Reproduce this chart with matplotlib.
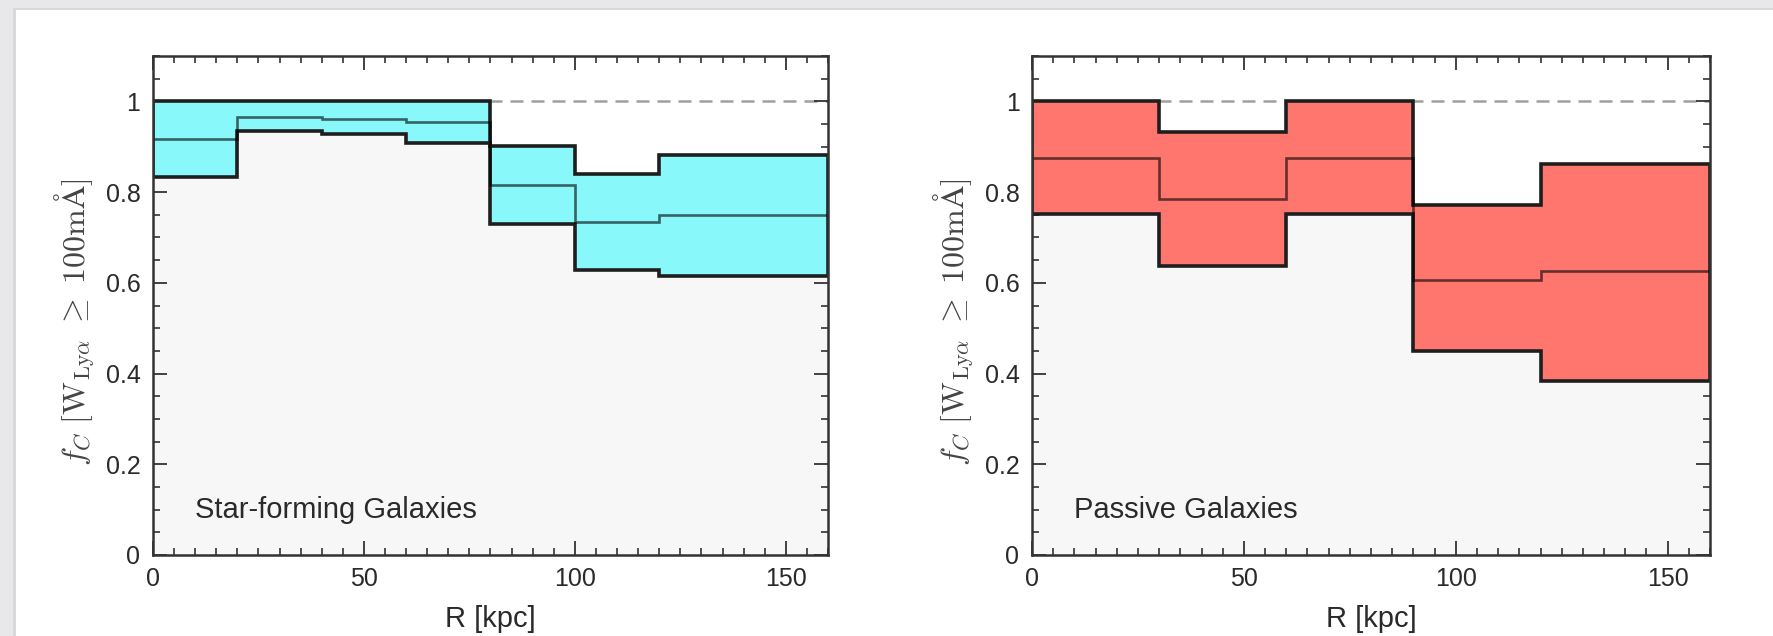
import numpy as np
import matplotlib
matplotlib.use("Agg")
import matplotlib.pyplot as plt
from matplotlib.patches import Rectangle
from matplotlib.ticker import MultipleLocator, FormatStrFormatter

# covering fraction per radial bin
sf_edges = [0, 20, 40, 60, 80, 100, 120, 160]
sf_upper = [1.0, 1.0, 1.0, 1.0, 0.902, 0.840, 0.882]
sf_median = [0.917, 0.966, 0.962, 0.954, 0.815, 0.735, 0.750]
sf_lower = [0.834, 0.935, 0.927, 0.908, 0.730, 0.628, 0.614]

ps_edges = [0, 30, 60, 90, 120, 160]
ps_upper = [1.0, 0.933, 1.0, 0.771, 0.862]
ps_median = [0.875, 0.784, 0.875, 0.607, 0.626]
ps_lower = [0.751, 0.637, 0.751, 0.449, 0.384]

panel_labels = ["Star-forming Galaxies", "Passive Galaxies"]
band_colors = ["#88f8fb", "#ff766e"]

plt.rcParams["font.family"] = ["Liberation Sans", "DejaVu Sans"]
plt.rcParams["mathtext.fontset"] = "cm"

W, H = 1774, 636
fig = plt.figure(figsize=(W / 100, H / 100), dpi=100)
fig.patch.set_facecolor("#e8e8ea")

# white "card" the plot sits on
fig.patches.append(Rectangle((13 / W, 0), 1, (H - 8) / H, transform=fig.transFigure,
                             facecolor="#d9d9db", edgecolor="none", zorder=-2))
fig.patches.append(Rectangle((16 / W, 0), 1, (H - 10) / H, transform=fig.transFigure,
                             facecolor="white", edgecolor="none", zorder=-1))

axes_px = [(153, 828), (1032, 1710)]
top_px, bot_px = 56, 555

data = [
    (sf_edges, sf_upper, sf_median, sf_lower),
    (ps_edges, ps_upper, ps_median, ps_lower),
]

for k, (edges, upper, median, lower) in enumerate(data):
    x0, x1 = axes_px[k]
    ax = fig.add_axes([x0 / W, (H - bot_px) / H, (x1 - x0) / W, (bot_px - top_px) / H])
    ax.set_facecolor("white")

    # light grey below the lower bound
    ax.stairs(lower, edges, baseline=0, fill=True, color="#f7f7f7", zorder=1)
    ax.axhline(1.0, color="#a0a0a0", lw=1.8, ls=(0, (5.2, 3.2)), zorder=1.5)
    # band between lower and upper limits
    ax.stairs(upper, edges, baseline=lower, fill=True, facecolor=band_colors[k],
              edgecolor="#1e1e1e", lw=2.6, zorder=2)
    ax.stairs(median, edges, baseline=None, color="black", alpha=0.6, lw=1.9, zorder=3)

    ax.set_xlim(0, 160)
    ax.set_ylim(0, 1.1)
    ax.xaxis.set_major_locator(MultipleLocator(50))
    ax.xaxis.set_minor_locator(MultipleLocator(5))
    ax.yaxis.set_major_locator(MultipleLocator(0.2))
    ax.yaxis.set_minor_locator(MultipleLocator(0.05))
    ax.yaxis.set_major_formatter(FormatStrFormatter("%g"))
    ax.tick_params(which="both", direction="in", top=True, right=True,
                   color="#333333", labelcolor="#2a2a2a", labelsize=18)
    ax.tick_params(which="major", length=10, width=1.3, pad=9)
    ax.tick_params(which="minor", length=5, width=1.2)
    for s in ax.spines.values():
        s.set_linewidth(1.8)
        s.set_color("#333333")
        s.set_zorder(4)

    ax.set_xlabel("R [kpc]", fontsize=21, color="#2a2a2a", labelpad=10)
    ax.set_ylabel(r"$f_C\ [\mathrm{W}_{\mathrm{Ly}\alpha}\ \geq\ 100\mathrm{m\AA}]$",
                  fontsize=23, color="#444444")
    ax.yaxis.set_label_coords(-0.083, 0.467)
    ax.text(10, 0.1, panel_labels[k], fontsize=21, color="#2a2a2a", va="center",
            zorder=5)

fig.savefig("out.png", dpi=100, facecolor=fig.get_facecolor())
